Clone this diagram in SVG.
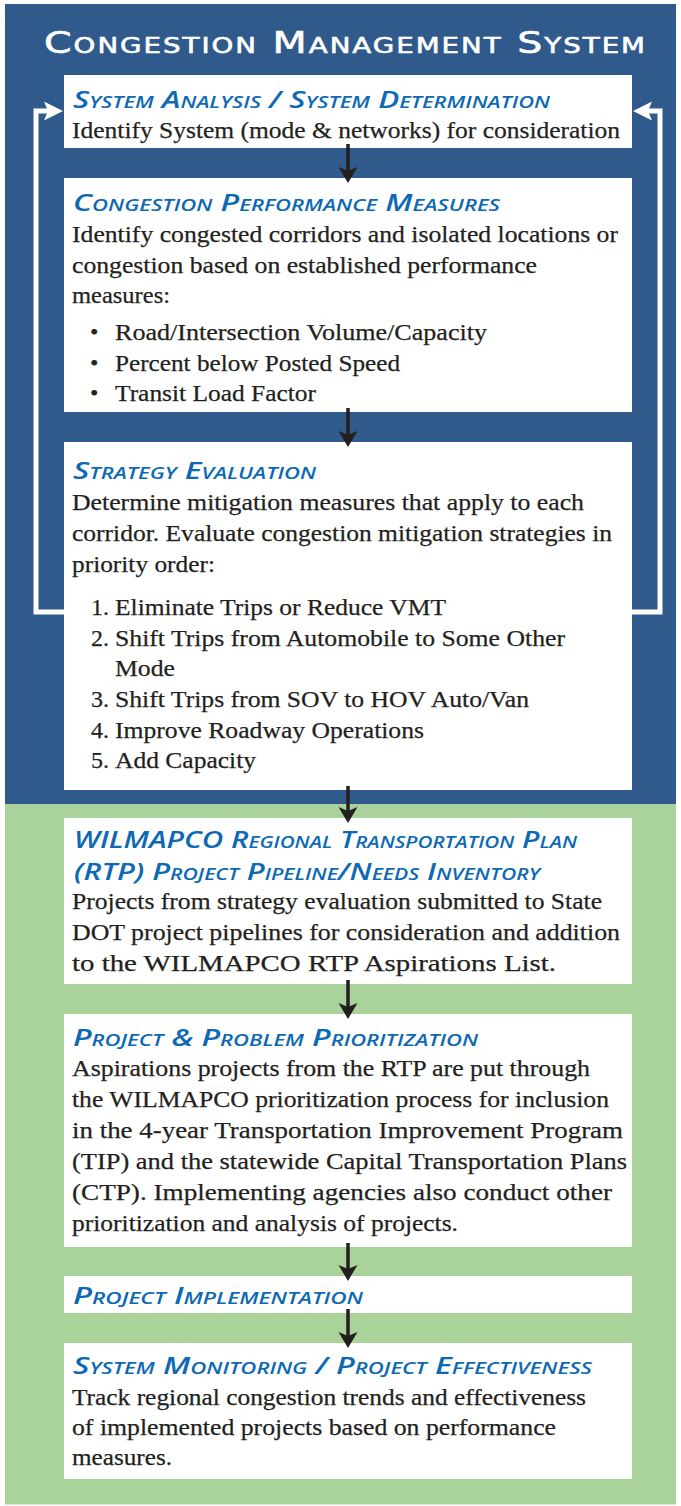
<svg xmlns="http://www.w3.org/2000/svg" width="681" height="1506" viewBox="0 0 681 1506">
<style>
.bg-blue{fill:#2f5a8b}
.bg-green{fill:#aad39c}
.box{fill:#ffffff}
.h{font-family:"Open Sans","Liberation Sans",Arial,sans-serif;font-style:italic;font-weight:600;font-variant:small-caps;font-size:23px;fill:#0d69b3}
.t{font-family:"Liberation Serif","Times New Roman",serif;font-size:24px;fill:#231f20;stroke:#231f20;stroke-width:0.25px}
.title{font-family:"DejaVu Sans","Liberation Sans",sans-serif;font-variant:small-caps;font-size:30px;letter-spacing:1.5px;fill:#ffffff;stroke:#ffffff;stroke-width:0.6px}
.loop{fill:none;stroke:#ffffff;stroke-width:5;stroke-linejoin:miter}
.shaft{stroke:#231f20;stroke-width:3.5;fill:none}
</style>
<defs>
<marker id="blk" markerUnits="userSpaceOnUse" viewBox="-5 -10 18 20" refX="0" refY="0" markerWidth="18" markerHeight="20" orient="auto">
<path d="M12,0 L-4,-9.5 L0,0 L-4,9.5 Z" fill="#231f20"/>
</marker>
<marker id="wht" markerUnits="userSpaceOnUse" viewBox="-5 -10 21 20" refX="0" refY="0" markerWidth="21" markerHeight="20" orient="auto">
<path d="M15,0 L-4,-9.5 L0,0 L-4,9.5 Z" fill="#ffffff"/>
</marker>
</defs>

<g id="background">
<rect class="bg-blue" x="5" y="4" width="671" height="800"/>
<rect class="bg-green" x="5" y="804" width="671" height="700.5"/>
<text class="title" x="44" y="53" textLength="603" lengthAdjust="spacingAndGlyphs">Congestion Management System</text>
</g>

<g id="system-analysis">
<rect class="box" x="64" y="75" width="568" height="73"/>
<text class="h" x="73" y="108" textLength="477" lengthAdjust="spacingAndGlyphs">System Analysis / System Determination</text>
<text class="t" x="72" y="138" textLength="548" lengthAdjust="spacingAndGlyphs">Identify System (mode &amp; networks) for consideration</text>
</g>

<g id="performance-measures">
<rect class="box" x="64" y="178" width="568" height="234"/>
<text class="h" x="73" y="211" textLength="427" lengthAdjust="spacingAndGlyphs">Congestion Performance Measures</text>
<text class="t" x="72" y="242" textLength="546" lengthAdjust="spacingAndGlyphs">Identify congested corridors and isolated locations or</text>
<text class="t" x="72" y="273" textLength="465" lengthAdjust="spacingAndGlyphs">congestion based on established performance</text>
<text class="t" x="72" y="303" textLength="98" lengthAdjust="spacingAndGlyphs">measures:</text>
<text class="t" x="90" y="340">•</text>
<text class="t" x="115" y="340" textLength="372" lengthAdjust="spacingAndGlyphs">Road/Intersection Volume/Capacity</text>
<text class="t" x="90" y="371">•</text>
<text class="t" x="115" y="371" textLength="285" lengthAdjust="spacingAndGlyphs">Percent below Posted Speed</text>
<text class="t" x="90" y="401">•</text>
<text class="t" x="115" y="401" textLength="201" lengthAdjust="spacingAndGlyphs">Transit Load Factor</text>
</g>

<g id="strategy-evaluation">
<rect class="box" x="64" y="442" width="568" height="348"/>
<text class="h" x="73" y="479" textLength="243" lengthAdjust="spacingAndGlyphs">Strategy Evaluation</text>
<text class="t" x="72" y="510" textLength="512" lengthAdjust="spacingAndGlyphs">Determine mitigation measures that apply to each</text>
<text class="t" x="72" y="541" textLength="540" lengthAdjust="spacingAndGlyphs">corridor. Evaluate congestion mitigation strategies in</text>
<text class="t" x="72" y="572" textLength="143" lengthAdjust="spacingAndGlyphs">priority order:</text>
<text class="t" x="91" y="615">1.</text>
<text class="t" x="115" y="615" textLength="331" lengthAdjust="spacingAndGlyphs">Eliminate Trips or Reduce VMT</text>
<text class="t" x="91" y="646">2.</text>
<text class="t" x="115" y="646" textLength="450" lengthAdjust="spacingAndGlyphs">Shift Trips from Automobile to Some Other</text>
<text class="t" x="115" y="676" textLength="60" lengthAdjust="spacingAndGlyphs">Mode</text>
<text class="t" x="91" y="707">3.</text>
<text class="t" x="115" y="707" textLength="414" lengthAdjust="spacingAndGlyphs">Shift Trips from SOV to HOV Auto/Van</text>
<text class="t" x="91" y="738">4.</text>
<text class="t" x="115" y="738" textLength="309" lengthAdjust="spacingAndGlyphs">Improve Roadway Operations</text>
<text class="t" x="91" y="768">5.</text>
<text class="t" x="115" y="768" textLength="141" lengthAdjust="spacingAndGlyphs">Add Capacity</text>
</g>

<g id="rtp-pipeline">
<rect class="box" x="64" y="818" width="568" height="166"/>
<text class="h" x="74" y="848" textLength="503" lengthAdjust="spacingAndGlyphs">WILMAPCO Regional Transportation Plan</text>
<text class="h" x="74" y="880" textLength="466" lengthAdjust="spacingAndGlyphs">(RTP) Project Pipeline/Needs Inventory</text>
<text class="t" x="72" y="909" textLength="530" lengthAdjust="spacingAndGlyphs">Projects from strategy evaluation submitted to State</text>
<text class="t" x="72" y="940" textLength="548" lengthAdjust="spacingAndGlyphs">DOT project pipelines for consideration and addition</text>
<text class="t" x="72" y="971" textLength="484" lengthAdjust="spacingAndGlyphs">to the WILMAPCO RTP Aspirations List.</text>
</g>

<g id="prioritization">
<rect class="box" x="64" y="1014" width="568" height="233"/>
<text class="h" x="73" y="1046" textLength="405" lengthAdjust="spacingAndGlyphs">Project &amp; Problem Prioritization</text>
<text class="t" x="72" y="1076" textLength="518" lengthAdjust="spacingAndGlyphs">Aspirations projects from the RTP are put through</text>
<text class="t" x="72" y="1107" textLength="537" lengthAdjust="spacingAndGlyphs">the WILMAPCO prioritization process for inclusion</text>
<text class="t" x="72" y="1138" textLength="551" lengthAdjust="spacingAndGlyphs">in the 4-year Transportation Improvement Program</text>
<text class="t" x="72" y="1169" textLength="555" lengthAdjust="spacingAndGlyphs">(TIP) and the statewide Capital Transportation Plans</text>
<text class="t" x="72" y="1200" textLength="540" lengthAdjust="spacingAndGlyphs">(CTP). Implementing agencies also conduct other</text>
<text class="t" x="72" y="1231" textLength="386" lengthAdjust="spacingAndGlyphs">prioritization and analysis of projects.</text>
</g>

<g id="implementation">
<rect class="box" x="64" y="1276" width="568" height="37"/>
<text class="h" x="73" y="1304" textLength="290" lengthAdjust="spacingAndGlyphs">Project Implementation</text>
</g>

<g id="monitoring">
<rect class="box" x="64" y="1343" width="568" height="136"/>
<text class="h" x="73" y="1374" textLength="519" lengthAdjust="spacingAndGlyphs">System Monitoring / Project Effectiveness</text>
<text class="t" x="72" y="1405" textLength="514" lengthAdjust="spacingAndGlyphs">Track regional congestion trends and effectiveness</text>
<text class="t" x="72" y="1435" textLength="484" lengthAdjust="spacingAndGlyphs">of implemented projects based on performance</text>
<text class="t" x="72" y="1465" textLength="100" lengthAdjust="spacingAndGlyphs">measures.</text>
</g>

<g id="connectors">
<polyline class="loop" points="64,612 36,612 36,111 48,111" marker-end="url(#wht)"/>
<polyline class="loop" points="632,612 660,612 660,111 648,111" marker-end="url(#wht)"/>
<line class="shaft" x1="348" y1="144" x2="348" y2="171" marker-end="url(#blk)"/>
<line class="shaft" x1="348" y1="408" x2="348" y2="435" marker-end="url(#blk)"/>
<line class="shaft" x1="348" y1="786" x2="348" y2="811" marker-end="url(#blk)"/>
<line class="shaft" x1="348" y1="980" x2="348" y2="1007" marker-end="url(#blk)"/>
<line class="shaft" x1="348" y1="1243" x2="348" y2="1269" marker-end="url(#blk)"/>
<line class="shaft" x1="348" y1="1309" x2="348" y2="1336" marker-end="url(#blk)"/>
</g>
</svg>
